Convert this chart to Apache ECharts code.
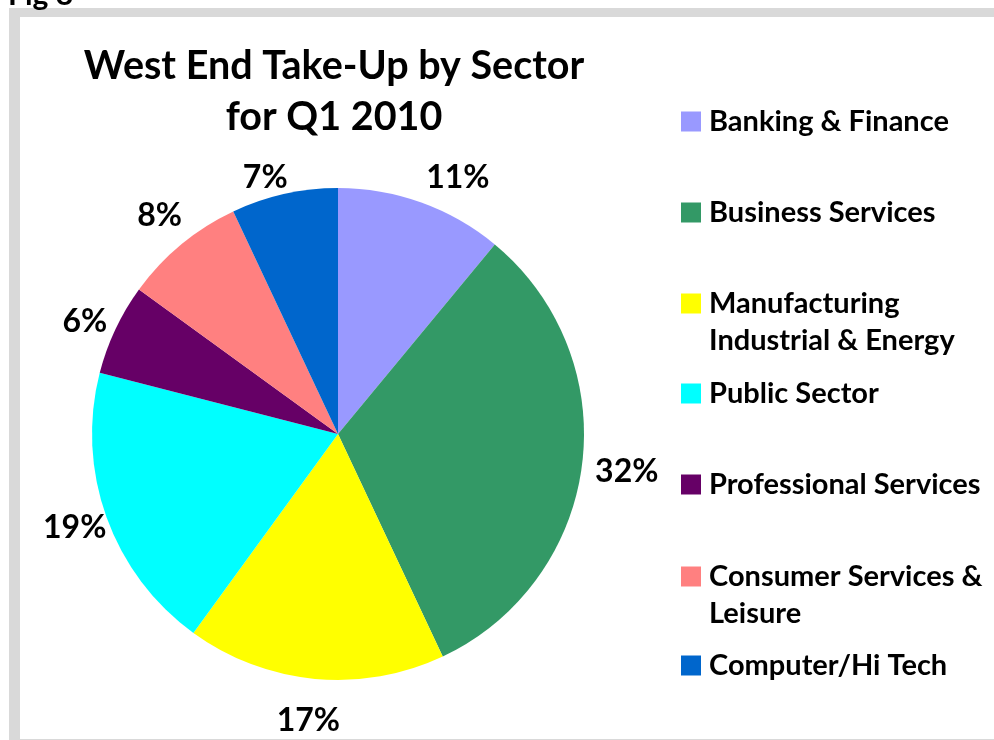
<!DOCTYPE html>
<html>
<head>
<meta charset="utf-8">
<script src="https://cdn.jsdelivr.net/npm/echarts@6/dist/echarts.min.js"></script>
<style>
  html, body { margin: 0; padding: 0; background: #ffffff; }
  #chart { width: 994px; height: 740px; }
</style>
</head>
<body>
<div id="chart"></div>
<script>
// West End take-up by sector, Q1 2010 (share of total, %)
const sectors = [
  'Banking & Finance',
  'Business Services',
  'Manufacturing\nIndustrial & Energy',
  'Public Sector',
  'Professional Services',
  'Consumer Services &\nLeisure',
  'Computer/Hi Tech'
];
const shares = [11, 32, 17, 19, 6, 8, 7];
const sectorColors = ['#9999FF', '#339966', '#FFFF00', '#00FFFF', '#660066', '#FF8080', '#0066CC'];

const FONT = 'Lato, "Open Sans", sans-serif';
const LEGEND_LINE = 37;

// small nudges so crowded percentage labels clear the slice edges
const labelNudge = [[24, 10], [8, 2], [-3, 5], [3, -2], [3, 8], [2, 0], [-11, 20]];

const chart = echarts.init(document.getElementById('chart'), null, { renderer: 'canvas' });

const pieData = sectors.map((name, i) => ({
  name,
  value: shares[i],
  itemStyle: { color: sectorColors[i] }
}));

// one legend block per sector so each entry sits on its own row;
// two-line names get an empty leading line so the swatch lines up with the first line
const legendRowTops = [103, 194, 248, 375, 466, 521, 647];
const legends = sectors.map((name, i) => {
  const twoLines = name.indexOf('\n') >= 0;
  return {
    data: [name],
    left: 681,
    top: legendRowTops[i],
    orient: 'vertical',
    padding: 0,
    itemWidth: 20,
    itemHeight: 20,
    icon: 'rect',
    selectedMode: false,
    formatter: n => (twoLines ? '\n' + n : n),
    textStyle: {
      fontFamily: FONT,
      fontWeight: 'bold',
      fontSize: 29,
      lineHeight: LEGEND_LINE,
      color: '#000000',
      padding: [0, 0, 0, 3]
    }
  };
});

chart.setOption({
  backgroundColor: '#ffffff',
  animation: false,
  title: {
    text: 'West End Take-Up by Sector\nfor Q1 2010',
    left: 329,
    top: 36,
    textAlign: 'center',
    textStyle: {
      fontFamily: FONT,
      fontWeight: 'bold',
      fontSize: 39.5,
      lineHeight: 51,
      color: '#000000'
    }
  },
  legend: legends,
  graphic: [
    // page frame
    { type: 'rect', shape: { x: 9, y: 8, width: 985, height: 9 }, style: { fill: '#D9D9D9' }, silent: true },
    { type: 'rect', shape: { x: 9, y: 8, width: 11, height: 732 }, style: { fill: '#D9D9D9' }, silent: true },
    { type: 'rect', shape: { x: 9, y: 739, width: 985, height: 1 }, style: { fill: '#D9D9D9' }, silent: true },
    { type: 'text', style: { x: 8, y: 10, text: 'Fig 8', font: 'bold 30px ' + FONT, fill: '#000000', verticalAlign: 'bottom' }, silent: true }
  ],
  series: [
    {
      type: 'pie',
      center: [338, 434],
      radius: [0, 246],
      startAngle: 90,
      clockwise: true,
      data: pieData,
      label: { show: false },
      labelLine: { show: false },
      silent: true
    },
    {
      // invisible ring carrying the percentage labels around the pie
      type: 'pie',
      center: [338, 434],
      radius: [250, 310],
      startAngle: 90,
      clockwise: true,
      data: pieData.map(d => ({ name: d.name, value: d.value })),
      itemStyle: { color: 'rgba(0,0,0,0)' },
      legendHoverLink: false,
      silent: true,
      label: {
        show: true,
        position: 'inside',
        formatter: '{c}%',
        fontFamily: FONT,
        fontWeight: 'bold',
        fontSize: 32,
        color: '#000000'
      },
      labelLine: { show: false },
      labelLayout: p => ({ dx: labelNudge[p.dataIndex][0], dy: labelNudge[p.dataIndex][1] })
    }
  ]
});
</script>
</body>
</html>
